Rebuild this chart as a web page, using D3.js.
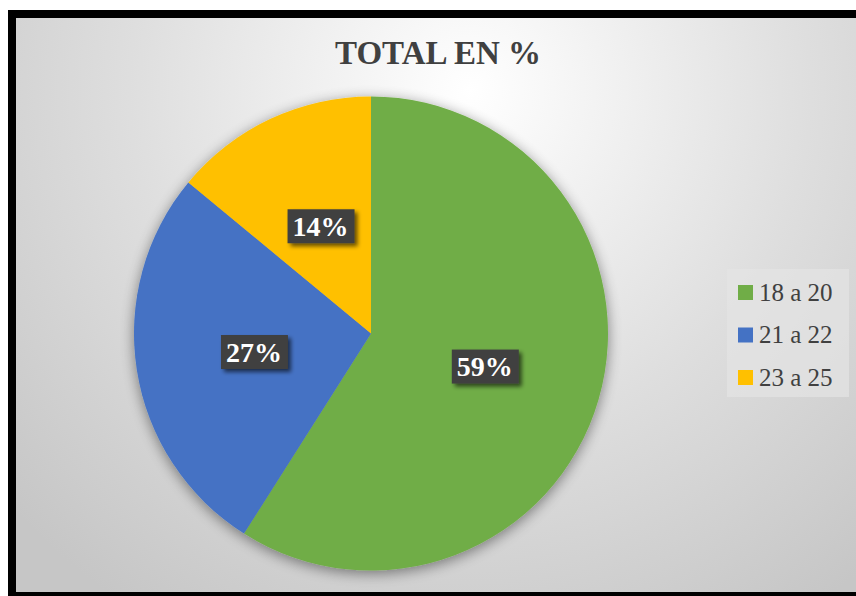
<!doctype html>
<html>
<head>
<title>TOTAL EN %</title>
<script src="https://d3js.org/d3.v7.min.js"></script>
<style>
  body { margin:0; background:#fff; }
  svg { display:block; }
</style>
</head>
<body>
<script>
  // data
  var categories = ["18 a 20", "21 a 22", "23 a 25"];
  var values = [59, 27, 14];
  var colors = ["#70AD47", "#4472C4", "#FFC000"];
  var title = "TOTAL EN %";

  var W = 856, H = 596;
  var FONT = "'Liberation Serif'";
  var svg = d3.select("body").append("svg").attr("width", W).attr("height", H);
  var defs = svg.append("defs");

  var bg = defs.append("radialGradient").attr("id","bg")
    .attr("gradientUnits","userSpaceOnUse")
    .attr("cx",470).attr("cy",90).attr("r",620);
  bg.append("stop").attr("offset","0%").attr("stop-color","#ffffff");
  bg.append("stop").attr("offset","55%").attr("stop-color","#dedede");
  bg.append("stop").attr("offset","100%").attr("stop-color","#c6c6c6");

  var sh = defs.append("filter").attr("id","pieShadow")
    .attr("x","-20%").attr("y","-20%").attr("width","140%").attr("height","140%");
  sh.append("feGaussianBlur").attr("in","SourceAlpha").attr("stdDeviation",7).attr("result","b");
  sh.append("feOffset").attr("in","b").attr("dx",0).attr("dy",3).attr("result","o");
  sh.append("feComponentTransfer").attr("in","o").attr("result","oa")
    .append("feFuncA").attr("type","linear").attr("slope",0.45);
  var m = sh.append("feMerge");
  m.append("feMergeNode").attr("in","oa");
  m.append("feMergeNode").attr("in","SourceGraphic");

  var ls = defs.append("filter").attr("id","lblShadow")
    .attr("x","-20%").attr("y","-20%").attr("width","150%").attr("height","160%");
  ls.append("feGaussianBlur").attr("in","SourceAlpha").attr("stdDeviation",2).attr("result","b");
  ls.append("feOffset").attr("in","b").attr("dx",3).attr("dy",3).attr("result","o");
  ls.append("feComponentTransfer").attr("in","o").attr("result","oa")
    .append("feFuncA").attr("type","linear").attr("slope",0.6);
  var m2 = ls.append("feMerge");
  m2.append("feMergeNode").attr("in","oa");
  m2.append("feMergeNode").attr("in","SourceGraphic");

  // frame
  svg.append("rect").attr("x",8).attr("y",10).attr("width",W).attr("height",H)
    .attr("fill","#000");
  svg.append("rect").attr("x",16).attr("y",18).attr("width",W).attr("height",574)
    .attr("fill","url(#bg)");

  svg.append("text").attr("x",438).attr("y",64)
    .attr("text-anchor","middle")
    .style("font-family",FONT)
    .style("font-weight","bold").style("font-size","33px")
    .attr("fill","#404040").text(title);

  var cx = 371, cy = 333.5, r = 237;
  var pie = d3.pie().sort(null).value(function(d){ return d; });
  var arc = d3.arc().innerRadius(0).outerRadius(r);
  var arcs = pie(values);

  var g = svg.append("g").attr("transform","translate(" + cx + "," + cy + ")");
  g.append("g").attr("filter","url(#pieShadow)")
    .selectAll("path").data(arcs).enter().append("path")
    .attr("d", arc)
    .attr("fill", function(d,i){ return colors[i]; });

  // labels at half radius
  var lblArc = d3.arc().innerRadius(r * 0.5).outerRadius(r * 0.5);
  var lbl = g.selectAll("g.lbl").data(arcs).enter().append("g").attr("class","lbl")
    .attr("transform", function(d){ return "translate(" + lblArc.centroid(d) + ")"; });
  lbl.append("rect").attr("x",-33).attr("y",-17).attr("width",67).attr("height",34)
    .attr("fill","#404040").attr("filter","url(#lblShadow)");
  lbl.append("text").attr("text-anchor","middle").attr("dy","0.35em")
    .style("font-family",FONT)
    .style("font-weight","bold").style("font-size","28px")
    .attr("fill","#fff")
    .text(function(d){ return d.data + "%"; });

  // legend
  var leg = svg.append("g").attr("transform","translate(727,269)");
  leg.append("rect").attr("width",122).attr("height",128).attr("fill","#e4e4e4").attr("opacity",0.7);
  var y = d3.scalePoint().domain(categories).range([23, 108]);
  var items = leg.selectAll("g.it").data(categories).enter().append("g")
    .attr("transform", function(d){ return "translate(11," + y(d) + ")"; });
  items.append("rect").attr("x",0).attr("y",-7).attr("width",15).attr("height",15)
    .attr("fill", function(d,i){ return colors[i]; });
  items.append("text").attr("x",21).attr("dy","0.35em")
    .style("font-family",FONT)
    .style("font-size","25px").attr("fill","#404040")
    .text(function(d){ return d; });
</script>
</body>
</html>
